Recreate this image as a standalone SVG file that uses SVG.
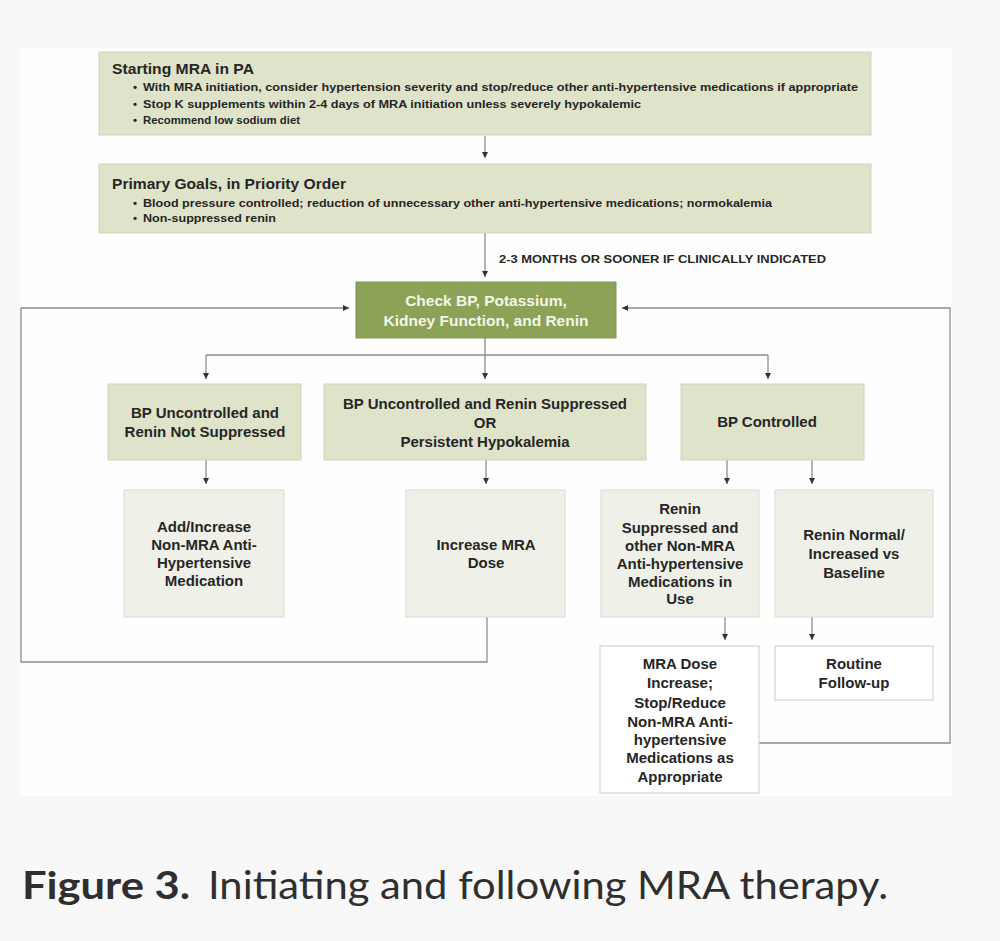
<svg xmlns="http://www.w3.org/2000/svg" width="1000" height="941" viewBox="0 0 1000 941">
<defs>
<style>
.t{font-family:"Liberation Sans",Arial,sans-serif;font-weight:bold;fill:#262626}
.c{text-anchor:middle;font-size:15px}
.h{font-size:14.5px}
.b{font-size:11.5px}
.w{fill:#f6f6ea;font-size:15.5px;text-anchor:middle}
.g1{fill:#dfe3c9;stroke:#cfd4b8;stroke-width:1}
.g2{fill:#eff1e9;stroke:#d9dcd2;stroke-width:1}
.g3{fill:#ffffff;stroke:#d4d4d4;stroke-width:1.2}
.ln{fill:none;stroke:#8c8c8c;stroke-width:1.3}
.cap{font-family:"Lato","Open Sans",sans-serif;font-size:38px;fill:#2f2f2f}
</style>
<marker id="ar" viewBox="0 0 10 10" refX="10" refY="5" markerWidth="6" markerHeight="6" orient="auto" markerUnits="userSpaceOnUse">
<path d="M0,0 L10,5 L0,10 z" fill="#333"/>
</marker>
</defs>
<rect x="0" y="0" width="1000" height="941" fill="#f8f8f8"/>
<rect x="20" y="48" width="932" height="748" fill="#fefefe"/>

<g id="connectors">
<path class="ln" d="M485,136 V158" marker-end="url(#ar)"/>
<path class="ln" d="M485,233 V277" marker-end="url(#ar)"/>
<path class="ln" d="M485,338 V355 M206,355 H768"/>
<path class="ln" d="M206,355 V379" marker-end="url(#ar)"/>
<path class="ln" d="M485,355 V379" marker-end="url(#ar)"/>
<path class="ln" d="M768,355 V379" marker-end="url(#ar)"/>
<path class="ln" d="M206,460 V484" marker-end="url(#ar)"/>
<path class="ln" d="M486,460 V484" marker-end="url(#ar)"/>
<path class="ln" d="M727,460 V484" marker-end="url(#ar)"/>
<path class="ln" d="M812,460 V484" marker-end="url(#ar)"/>
<path class="ln" d="M725,617 V640" marker-end="url(#ar)"/>
<path class="ln" d="M812,617 V640" marker-end="url(#ar)"/>
<path class="ln" d="M487,617 V662 H21 V308 H349" marker-end="url(#ar)"/>
<path class="ln" d="M759,743 H950 V308 H622" marker-end="url(#ar)"/>
<text class="t" x="499" y="263" font-size="11.5" textLength="327" lengthAdjust="spacingAndGlyphs">2-3 MONTHS OR SOONER IF CLINICALLY INDICATED</text>
</g>

<g id="start">
<rect class="g1" x="99" y="52" width="772" height="83"/>
<text class="t h" x="112" y="74" textLength="142" lengthAdjust="spacingAndGlyphs">Starting MRA in PA</text>
<text class="t b" x="133" y="91">•</text>
<text class="t b" x="143" y="91" textLength="715" lengthAdjust="spacingAndGlyphs">With MRA initiation, consider hypertension severity and stop/reduce other anti-hypertensive medications if appropriate</text>
<text class="t b" x="133" y="108">•</text>
<text class="t b" x="143" y="108" textLength="498" lengthAdjust="spacingAndGlyphs">Stop K supplements within 2-4 days of MRA initiation unless severely hypokalemic</text>
<text class="t b" x="133" y="124">•</text>
<text class="t b" x="143" y="124" textLength="157" lengthAdjust="spacingAndGlyphs">Recommend low sodium diet</text>
</g>

<g id="goals">
<rect class="g1" x="99" y="164" width="772" height="69"/>
<text class="t h" x="112" y="189" textLength="234" lengthAdjust="spacingAndGlyphs">Primary Goals, in Priority Order</text>
<text class="t b" x="133" y="207">•</text>
<text class="t b" x="143" y="207" textLength="629" lengthAdjust="spacingAndGlyphs">Blood pressure controlled; reduction of unnecessary other anti-hypertensive medications; normokalemia</text>
<text class="t b" x="133" y="222">•</text>
<text class="t b" x="143" y="222" textLength="133" lengthAdjust="spacingAndGlyphs">Non-suppressed renin</text>
</g>

<g id="check">
<rect x="356" y="282" width="260" height="56" fill="#8ba257" stroke="#7f9650" stroke-width="1"/>
<text class="t w" x="486" y="306">Check BP, Potassium,</text>
<text class="t w" x="486" y="326">Kidney Function, and Renin</text>
</g>

<g id="uncontrolled-not-suppressed">
<rect class="g1" x="108" y="384" width="193" height="76"/>
<text class="t c" x="205" y="418">BP Uncontrolled and</text>
<text class="t c" x="205" y="437">Renin Not Suppressed</text>
</g>

<g id="uncontrolled-suppressed">
<rect class="g1" x="324" y="384" width="322" height="76"/>
<text class="t c" x="485" y="409">BP Uncontrolled and Renin Suppressed</text>
<text class="t c" x="485" y="428">OR</text>
<text class="t c" x="485" y="447">Persistent Hypokalemia</text>
</g>

<g id="controlled">
<rect class="g1" x="681" y="384" width="183" height="76"/>
<text class="t c" x="767" y="427">BP Controlled</text>
</g>

<g id="add-increase">
<rect class="g2" x="124" y="490" width="160" height="127"/>
<text class="t c" x="204" y="532">Add/Increase</text>
<text class="t c" x="204" y="550">Non-MRA Anti-</text>
<text class="t c" x="204" y="568">Hypertensive</text>
<text class="t c" x="204" y="586">Medication</text>
</g>

<g id="increase-mra">
<rect class="g2" x="406" y="490" width="159" height="127"/>
<text class="t c" x="486" y="550">Increase MRA</text>
<text class="t c" x="486" y="568">Dose</text>
</g>

<g id="renin-suppressed">
<rect class="g2" x="601" y="490" width="158" height="127"/>
<text class="t c" x="680" y="514">Renin</text>
<text class="t c" x="680" y="533">Suppressed and</text>
<text class="t c" x="680" y="551">other Non-MRA</text>
<text class="t c" x="680" y="569">Anti-hypertensive</text>
<text class="t c" x="680" y="587">Medications in</text>
<text class="t c" x="680" y="604">Use</text>
</g>

<g id="renin-normal">
<rect class="g2" x="775" y="490" width="158" height="127"/>
<text class="t c" x="854" y="540">Renin Normal/</text>
<text class="t c" x="854" y="559">Increased vs</text>
<text class="t c" x="854" y="578">Baseline</text>
</g>

<g id="mra-dose-increase">
<rect class="g3" x="600" y="646" width="159" height="147"/>
<text class="t c" x="680" y="669">MRA Dose</text>
<text class="t c" x="680" y="688">Increase;</text>
<text class="t c" x="680" y="708">Stop/Reduce</text>
<text class="t c" x="680" y="727">Non-MRA Anti-</text>
<text class="t c" x="680" y="745">hypertensive</text>
<text class="t c" x="680" y="763">Medications as</text>
<text class="t c" x="680" y="782">Appropriate</text>
</g>

<g id="routine">
<rect class="g3" x="775" y="646" width="158" height="54"/>
<text class="t c" x="854" y="669">Routine</text>
<text class="t c" x="854" y="688">Follow-up</text>
</g>

<g id="caption">
<text class="cap" x="22" y="899" font-weight="bold" textLength="168" lengthAdjust="spacingAndGlyphs">Figure 3.</text>
<text class="cap" x="208" y="899" textLength="680" lengthAdjust="spacingAndGlyphs">Initiating and following MRA therapy.</text>
</g>
</svg>
